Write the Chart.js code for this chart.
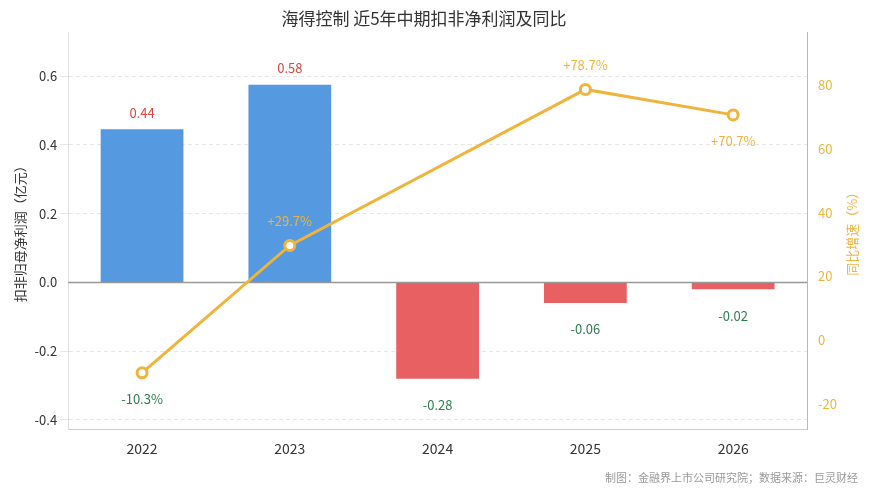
<!DOCTYPE html>
<html><head><meta charset="utf-8">
<script src="https://cdn.jsdelivr.net/npm/chart.js@4"></script>
<style>html,body{margin:0;background:#fff}#wrap{width:870px;height:494px}</style>
</head><body><div id="wrap"><canvas id="c" width="870" height="494"></canvas></div>
<script>
const years = ['2022', '2023', '2024', '2025', '2026'];
const profit = [0.445, 0.575, -0.28, -0.06, -0.02];
const profitLabels = ['0.44', '0.58', '-0.28', '-0.06', '-0.02'];
const growth = [-10.3, 29.7, null, 78.7, 70.7];
const growthLabels = ['-10.3%', '+29.7%', '', '+78.7%', '+70.7%'];
const FONT = '"Noto Sans CJK SC", "Noto Sans", sans-serif';
const ORANGE = '#f0b43c';

// Helpers
const labelPlugin = {
  id: 'labels',
  beforeDatasetsDraw(chart) {
    // solid zero line
    const ctx = chart.ctx, y0 = chart.scales.y.getPixelForValue(0), a = chart.chartArea;
    ctx.save();
    ctx.strokeStyle = '#999';
    ctx.lineWidth = 1.5;
    ctx.beginPath(); ctx.moveTo(a.left, y0); ctx.lineTo(a.right, y0); ctx.stroke();
    ctx.restore();
  },
  afterDatasetsDraw(chart) {
    const ctx = chart.ctx;
    ctx.save();
    ctx.font = '13px ' + FONT;
    ctx.textAlign = 'center';
    chart.getDatasetMeta(0).data.forEach((bar, i) => {
      const pos = profit[i] >= 0;
      ctx.fillStyle = pos ? '#d9453f' : '#2e7d4f';
      ctx.textBaseline = pos ? 'bottom' : 'top';
      ctx.fillText(profitLabels[i], bar.x, pos ? bar.y - 10 : bar.y + 20);
    });
    chart.getDatasetMeta(1).data.forEach((pt, i) => {
      if (growth[i] === null) return;
      const above = i === 1 || i === 3;
      ctx.fillStyle = growth[i] < 0 ? '#2e7d4f' : ORANGE;
      ctx.textBaseline = above ? 'bottom' : 'top';
      ctx.fillText(growthLabels[i], pt.x, above ? pt.y - 18 : pt.y + 20);
    });
    ctx.restore();
  }
};

const extraPlugin = {
  id: 'extra',
  afterDraw(chart) {
    const ctx = chart.ctx, a = chart.chartArea;
    ctx.save();
    ctx.font = '11px ' + FONT;
    ctx.fillStyle = '#999';
    ctx.textAlign = 'right';
    ctx.fillText('制图：金融界上市公司研究院；数据来源：巨灵财经', 858, 482);
    // right axis title, reading bottom to top
    ctx.translate(852, (a.top + a.bottom) / 2);
    ctx.rotate(-Math.PI / 2);
    ctx.textAlign = 'center';
    ctx.textBaseline = 'middle';
    ctx.font = '13px ' + FONT;
    ctx.fillStyle = ORANGE;
    ctx.fillText('同比增速（%）', 0, 0);
    ctx.restore();
  }
};

new Chart(document.getElementById('c'), {
  data: {
    labels: years,
    datasets: [{
      type: 'bar',
      data: profit,
      yAxisID: 'y',
      backgroundColor: profit.map(v => v >= 0 ? '#5599e0' : '#e86062'),
      barPercentage: 0.56,
      categoryPercentage: 1,
      order: 2
    }, {
      type: 'line',
      data: growth,
      yAxisID: 'y1',
      spanGaps: true,
      borderColor: ORANGE,
      borderWidth: 3,
      pointRadius: 5,
      pointBorderWidth: 3,
      pointBackgroundColor: '#fff',
      pointBorderColor: ORANGE,
      order: 1
    }]
  },
  options: {
    responsive: false,
    animation: false,
    layout: { padding: { left: 8, right: 30, bottom: 34 } },
    plugins: {
      legend: { display: false },
      tooltip: { enabled: false },
      title: {
        display: true,
        text: '海得控制 近5年中期扣非净利润及同比',
        color: '#333',
        font: { family: FONT, size: 17, weight: 'normal' },
        padding: { top: 8, bottom: 4 }
      }
    },
    scales: {
      x: {
        grid: { display: false },
        border: { color: '#ccc' },
        ticks: { color: '#333', font: { family: FONT, size: 14 } }
      },
      y: {
        min: -0.427, max: 0.727,
        afterBuildTicks: s => { s.ticks = [-0.4, -0.2, 0, 0.2, 0.4, 0.6].map(v => ({ value: v })); },
        grid: { color: c => c.tick.value === 0 ? 'rgba(0,0,0,0)' : '#e6e6e6' },
        border: { color: '#ddd', dash: [4, 3] },
        ticks: { color: '#333', font: { family: FONT, size: 13 }, callback: v => v.toFixed(1) },
        title: { display: true, text: '扣非归母净利润（亿元）', color: '#333', font: { family: FONT, size: 13 } }
      },
      y1: {
        position: 'right',
        min: -28, max: 96.6,
        afterBuildTicks: s => { s.ticks = [-20, 0, 20, 40, 60, 80].map(v => ({ value: v })); },
        grid: { display: false },
        border: { color: ORANGE },
        ticks: { color: ORANGE, font: { family: FONT, size: 13 } }
      }
    }
  },
  plugins: [labelPlugin, extraPlugin]
});
</script></body></html>
